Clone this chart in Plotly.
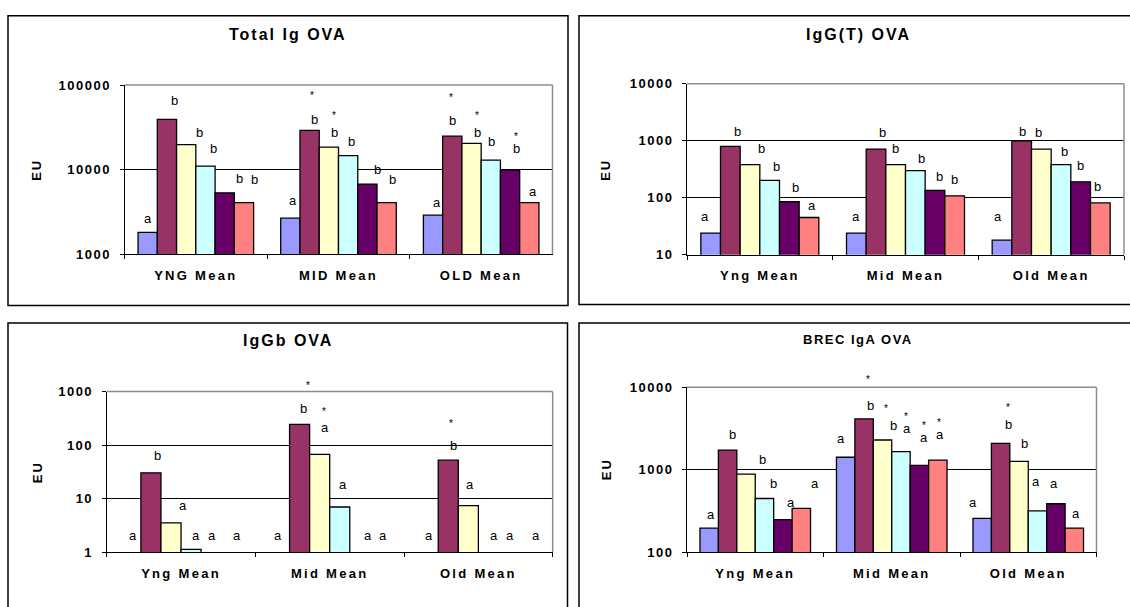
import math
import plotly.graph_objects as go

W, H = 1130, 607
FONT = "Liberation Sans, Arial, sans-serif"
BARGAP = 0.19

# ---- data -------------------------------------------------------------
groups_upper = ["YNG Mean", "MID Mean", "OLD Mean"]
groups = ["Yng Mean", "Mid Mean", "Old Mean"]
series_names = ["S1", "S2", "S3", "S4", "S5", "S6"]
bar_colors = ["#9999FF", "#993366", "#FFFFCC", "#CCFFFF", "#660066", "#FF8080"]

# one row per series, one column per age group (EU)
total_ig = [
    [1800, 2660, 2880],
    [39250, 29100, 24800],
    [19700, 18400, 20400],
    [11000, 14600, 12900],
    [5300, 6730, 9900],
    [4060, 4060, 4060],
]
igg_t = [
    [24, 24, 18],
    [794, 714, 1000],
    [380, 380, 714],
    [202, 300, 380],
    [85, 135, 190],
    [45, 108, 81],
]
iggb = [
    [None, None, None],
    [30.3, 243, 52.3],
    [3.52, 67.2, 7.38],
    [1.13, 6.98, None],
    [None, None, None],
    [None, None, None],
]
brec_iga = [
    [196, 1419, 257],
    [1734, 4140, 2094],
    [885, 2296, 1262],
    [448, 1656, 317],
    [248, 1130, 387],
    [341, 1306, 196],
]

# significance letters: (group, series, text)
total_ig_letters = [
    (0, 0, "a"), (0, 1, "b"), (0, 2, "b"), (0, 3, "b"), (0, 4, "b"), (0, 5, "b"),
    (1, 0, "a"), (1, 1, "*"), (1, 1, "b"), (1, 2, "*"), (1, 2, "b"), (1, 3, "b"), (1, 4, "b"), (1, 5, "b"),
    (2, 0, "a"), (2, 1, "*"), (2, 1, "b"), (2, 2, "*"), (2, 2, "b"), (2, 3, "b"), (2, 4, "*"), (2, 4, "b"), (2, 5, "a"),
]
igg_t_letters = [
    (0, 0, "a"), (0, 1, "b"), (0, 2, "b"), (0, 3, "b"), (0, 4, "b"), (0, 5, "a"),
    (1, 0, "a"), (1, 1, "b"), (1, 2, "b"), (1, 3, "b"), (1, 4, "b"), (1, 5, "b"),
    (2, 0, "a"), (2, 1, "b"), (2, 2, "b"), (2, 3, "b"), (2, 4, "b"), (2, 5, "b"),
]
iggb_letters = [
    (0, 0, "a"), (0, 1, "b"), (0, 2, "a"), (0, 3, "a"), (0, 4, "a"), (0, 5, "a"),
    (1, 0, "a"), (1, 1, "*"), (1, 1, "b"), (1, 2, "*"), (1, 2, "a"), (1, 3, "a"), (1, 4, "a"), (1, 5, "a"),
    (2, 0, "a"), (2, 1, "*"), (2, 1, "b"), (2, 2, "a"), (2, 3, "a"), (2, 4, "a"), (2, 5, "a"),
]
brec_iga_letters = [
    (0, 0, "a"), (0, 1, "b"), (0, 2, "b"), (0, 3, "b"), (0, 4, "a"), (0, 5, "a"),
    (1, 0, "a"), (1, 1, "*"), (1, 1, "b"), (1, 2, "*"), (1, 2, "b"), (1, 3, "*"), (1, 3, "a"),
    (1, 4, "*"), (1, 4, "a"), (1, 5, "*"), (1, 5, "a"),
    (2, 0, "a"), (2, 1, "*"), (2, 1, "b"), (2, 2, "b"), (2, 3, "a"), (2, 4, "a"), (2, 5, "a"),
]

# ---- placement of the letters: pixel nudges from each bar top ----------
total_ig_nudge = [
    (0, 14), (7.5, 18.5), (13, 12.5), (8, 17.5), (15, 14.5), (10.5, 23.5),
    (3, 17.5), (2, 33.5), (5, 10.5), (5, 30.5), (6, 14.5), (3, 14.5), (10.5, 14.5), (6, 23.5),
    (4, 12.5), (-1, 38), (0, 16), (5.5, 26.5), (5.5, 10.5), (1, 19), (5.5, 32), (6.5, 21.5), (3.5, 11),
]
igg_t_nudge = [
    (-6, 17), (7, 15), (11, 16), (7, 14), (6.5, 14), (3, 12),
    (0, 17), (6, 17), (0, 16), (6, 12), (4, 14), (0, 16),
    (-4, 24), (1, 9), (-2.5, 17), (3, 13), (0, 16), (-3, 16),
]
iggb_nudge = [
    (2, 17), (7, 17), (12, 17), (5, 14), (1, 17), (6, 17),
    (-2, 17), (8, 38), (4, 16), (4, 42), (5, 27), (3, 23), (8, 17), (3.5, 17),
    (0.5, 17), (3, 36), (5, 15), (1.5, 21), (6, 17), (2, 17), (7, 17),
]
brec_iga_nudge = [
    (2, 14), (5, 16), (16, 15), (9, 15), (8.5, 17), (13.5, 25),
    (-5, 19), (4, 38), (6, 13), (3.5, 31), (10.5, 15), (5.5, 34), (6.5, 23),
    (5, 39), (5, 28), (1, 37), (2, 26),
    (-9.5, 16), (7, 35), (8, 19), (5.5, 18), (-1.5, 29), (-2, 20), (2, 15),
]

panels = [
    dict(title="Total Ig OVA", title_size=16, title_xy=(288, 28.5), cats=groups_upper,
         values=total_ig, letters=total_ig_letters, nudge=total_ig_nudge,
         yrange=(3, 5), ytick_text=["1000", "10000", "100000"],
         box=(8, 9, 568, 306), plot=(124.5, 80, 552.5, 253.3), eu=(37, 167)),
    dict(title="IgG(T) OVA", title_size=16, title_xy=(858, 28.5), cats=groups,
         values=igg_t, letters=igg_t_letters, nudge=igg_t_nudge,
         yrange=(1, 4), ytick_text=["10", "100", "1000", "10000"],
         box=(579, 9, 1145, 305), plot=(687, 78.7, 1124, 254), eu=(606, 167)),
    dict(title="IgGb OVA", title_size=16, title_xy=(288, 342), cats=groups,
         values=iggb, letters=iggb_letters, nudge=iggb_nudge,
         yrange=(0, 3), ytick_text=["1", "10", "100", "1000"],
         box=(8, 324, 567.5, 640), plot=(106.7, 394.3, 552.7, 559), eu=(37, 477)),
    dict(title="BREC IgA OVA", title_size=13, title_xy=(858, 341), cats=groups,
         values=brec_iga, letters=brec_iga_letters, nudge=brec_iga_nudge,
         yrange=(2, 4), ytick_text=["100", "1000", "10000"],
         box=(579, 324, 1145, 640), plot=(687, 390, 1096.5, 559), eu=(606, 474)),
]


def px(x):
    return x / W


def py(y):
    return 1 - y / H


def spaced(text, gap):
    return f"<span style='letter-spacing:{gap}px'>{text}</span>"


fig = go.Figure()
layout_axes = {}

for i, p in enumerate(panels):
    n = "" if i == 0 else str(i + 1)
    xa, ya = "x" + n, "y" + n
    x0, y0, x1, y1 = p["plot"]

    for k, name in enumerate(series_names):
        fig.add_trace(go.Bar(
            x=p["cats"], y=p["values"][k], name=name, xaxis=xa, yaxis=ya,
            marker=dict(color=bar_colors[k], line=dict(color="black", width=1.3)),
            showlegend=False, hoverinfo="skip",
        ))

    lo, hi = p["yrange"]
    layout_axes["xaxis" + n] = dict(
        domain=[px(x0), px(x1)], anchor=ya, type="category",
        categoryorder="array", categoryarray=p["cats"],
        tickmode="array", tickvals=p["cats"],
        ticktext=[spaced(c, 2.3) for c in p["cats"]],
        tickson="boundaries", ticks="outside", ticklen=4, tickcolor="black",
        showline=True, linecolor="black", linewidth=1, showgrid=False,
        tickfont=dict(family=FONT, size=13, color="black", weight="bold"),
        ticklabelstandoff=9, fixedrange=True,
    )
    layout_axes["yaxis" + n] = dict(
        domain=[py(y1), py(y0)], anchor=xa, type="log", range=[lo, hi],
        tickmode="array", tickvals=[10 ** e for e in range(lo, hi + 1)],
        ticktext=[spaced(t, 1.5) for t in p["ytick_text"]],
        ticks="outside", ticklen=4, tickcolor="black",
        showline=True, linecolor="black", linewidth=1,
        showgrid=True, gridcolor="black", gridwidth=1,
        tickfont=dict(family=FONT, size=13, color="black", weight="bold"),
        ticklabelstandoff=6, fixedrange=True,
    )

    # grey frame on the top and right of the plotting area
    fig.add_shape(type="line", xref=xa + " domain", yref=ya + " domain",
                  x0=0, x1=1, y0=1, y1=1, line=dict(color="#8c8c8c", width=1.5), layer="above")
    fig.add_shape(type="line", xref=xa + " domain", yref=ya + " domain",
                  x0=1, x1=1, y0=0, y1=1, line=dict(color="#8c8c8c", width=1.5), layer="above")

    # outer chart border
    bx0, by0, bx1, by1 = p["box"]
    fig.add_shape(type="rect", xref="paper", yref="paper",
                  x0=px(bx0), x1=px(bx1), y0=py(by1), y1=py(by0),
                  line=dict(color="black", width=1.5), fillcolor="rgba(0,0,0,0)")

    # chart title and y-axis title
    tx, ty = p["title_xy"]
    fig.add_annotation(x=px(tx), y=py(ty), xref="paper", yref="paper",
                       text=spaced(p["title"], 2 if p["title_size"] > 14 else 1.5),
                       showarrow=False, xanchor="center", yanchor="middle",
                       font=dict(family=FONT, size=p["title_size"], color="black", weight="bold"))
    ex, ey = p["eu"]
    fig.add_annotation(x=px(ex), y=py(ey), xref="paper", yref="paper",
                       text=spaced("EU", 2), textangle=-90, showarrow=False,
                       xanchor="center", yanchor="middle",
                       font=dict(family=FONT, size=13, color="black", weight="bold"))

    # significance letters above the bars
    slot = (1 - BARGAP) / 6
    for (g, k, txt), (dx, dy) in zip(p["letters"], p["nudge"]):
        v = p["values"][k][g]
        anchor = math.log10(v) if v else lo
        star = txt == "*"
        fig.add_annotation(
            x=g + (k - 2.5) * slot, y=anchor, xref=xa, yref=ya,
            text=txt, showarrow=False, xanchor="center", yanchor="middle",
            xshift=dx, yshift=dy + (1 if star else 0),
            font=dict(family=FONT, size=10 if star else 13, color="black"),
        )

fig.update_layout(
    width=W, height=H, margin=dict(l=0, r=0, t=0, b=0),
    paper_bgcolor="white", plot_bgcolor="white",
    barmode="group", bargap=BARGAP, bargroupgap=0,
    showlegend=False, **layout_axes,
)

fig.write_html("out.html")
